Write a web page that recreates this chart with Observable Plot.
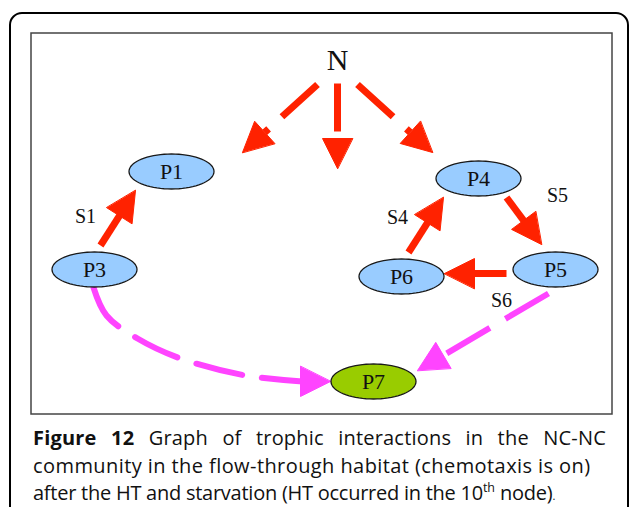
<!DOCTYPE html>
<html><head><meta charset="utf-8">
<script src="https://cdn.jsdelivr.net/npm/d3@7"></script>
<script src="https://cdn.jsdelivr.net/npm/@observablehq/plot@0.6"></script>
<style>
body{margin:0;background:#fff;}
#wrap{position:relative;width:629px;height:507px;overflow:hidden;background:#fff;}
#chart{position:absolute;left:0;top:0;}
#caption{position:absolute;left:33px;top:424px;width:573px;font-family:"Open Sans",sans-serif;font-size:20px;letter-spacing:0.42px;line-height:27.5px;color:#111;white-space:nowrap;}
#caption .l1{text-align:justify;text-align-last:justify;letter-spacing:0.2px;}
#caption .l3{letter-spacing:-0.25px;}
#caption sup{font-size:12.5px;line-height:0;vertical-align:8px;letter-spacing:0;}
#caption .dot{font-size:11px;}
</style></head><body>
<div id="wrap"><div id="chart"></div>
<div id="caption">
<div class="l1"><b>Figure 12</b> Graph of trophic interactions in the NC-NC</div>
<div>community in the flow-through habitat (chemotaxis is on)</div>
<div class="l3">after the HT and starvation (HT occurred in the 10<sup>th</sup> node)<span class="dot">.</span></div>
</div></div>
<script>
// Nodes of the trophic graph
const nodeNames = ["P1", "P3", "P4", "P5", "P6", "P7"];
const nodeX = [171, 94, 478, 555, 401, 373];
const nodeY = [171, 269, 178, 269, 276, 381];
const nodeKind = ["pop", "pop", "pop", "pop", "pop", "sink"];

// Nutrient source
const sourceName = "N";
const sourceX = [337];
const sourceY = [60];

// Nutrient arrows (dashed, red): start and tip
const nArrowX1 = [317, 337, 357];
const nArrowY1 = [84, 83, 84];
const nArrowX2 = [242, 337, 432];
const nArrowY2 = [152, 168, 152];

// Trophic arrows (solid, red): from -> to
const edgeFrom = ["P3", "P6", "P4", "P5"];
const edgeTo = ["P1", "P4", "P5", "P6"];
const edgeX1 = [100, 408, 506, 506];
const edgeY1 = [245, 252, 197, 273];
const edgeX2 = [135, 443, 541, 444];
const edgeY2 = [190, 197, 244, 273];

// Edge labels
const labelNames = ["S1", "S4", "S5", "S6"];
const labelX = [85, 397, 557, 501];
const labelY = [216, 217, 195, 300];

// Dashed magenta flows into P7
const curvePathX = [93, 106, 137, 180, 245, 302];
const curvePathY = [287, 315, 338, 358, 375, 381];
const curveTip = [330, 381];
const s6X = [548, 417];
const s6Y = [293, 370];

const RED = "#ff2200", MAG = "#ff44ff";
const kindColor = {pop: "#99ccff", sink: "#99cc00"};

// helpers
function head(x1, y1, x2, y2, id, L = 30, W = 15) {
  const dx = x2 - x1, dy = y2 - y1, n = Math.hypot(dx, dy);
  const ux = dx / n, uy = dy / n;
  const bx = x2 - L * ux, by = y2 - L * uy;
  return {
    base: [bx, by],
    pts: [
      {id, x: x2, y: y2},
      {id, x: bx - W * uy, y: by + W * ux},
      {id, x: bx + W * uy, y: by - W * ux}
    ]
  };
}

const redHeads = [], redShafts = [], nShafts = [], magHeads = [];
nArrowX1.forEach((_, i) => {
  const h = head(nArrowX1[i], nArrowY1[i], nArrowX2[i], nArrowY2[i], "n" + i);
  redHeads.push(...h.pts);
  nShafts.push({x1: nArrowX1[i], y1: nArrowY1[i], x2: h.base[0], y2: h.base[1]});
});
edgeFrom.forEach((_, i) => {
  const h = head(edgeX1[i], edgeY1[i], edgeX2[i], edgeY2[i], "e" + i);
  redHeads.push(...h.pts);
  redShafts.push({x1: edgeX1[i], y1: edgeY1[i], x2: h.base[0] + (edgeX2[i]-h.base[0])*0.1, y2: h.base[1] + (edgeY2[i]-h.base[1])*0.1});
});
const n1 = curvePathX.length - 1;
const hc = head(curvePathX[n1], curvePathY[n1], curveTip[0], curveTip[1], "c");
magHeads.push(...hc.pts);
const hs = head(s6X[0], s6Y[0], s6X[1], s6Y[1], "s");
magHeads.push(...hs.pts);
const s6Shaft = [{x1: s6X[0], y1: s6Y[0], x2: hs.base[0], y2: hs.base[1]}];
const curvePts = curvePathX.map((x, i) => ({x, y: curvePathY[i]}));

const ellipses = [];
nodeNames.forEach((name, i) => {
  for (let k = 0; k < 72; k++) {
    const a = k / 72 * 2 * Math.PI;
    ellipses.push({name, x: nodeX[i] + 42.5 * Math.cos(a), y: nodeY[i] + 17.5 * Math.sin(a), fill: kindColor[nodeKind[i]]});
  }
});
const nodes = nodeNames.map((name, i) => ({name, x: nodeX[i], y: nodeY[i]}));
const labels = labelNames.map((name, i) => ({name, x: labelX[i], y: labelY[i]}));

const chart = Plot.plot({
  width: 629, height: 507, margin: 0,
  x: {domain: [0, 629], range: [0, 629], axis: null},
  y: {domain: [0, 507], range: [0, 507], axis: null},
  style: {background: "transparent", overflow: "hidden"},
  marks: [
    Plot.rect([{x1: 10, x2: 628, y1: 13, y2: 560}], {x1: "x1", x2: "x2", y1: "y1", y2: "y2", rx: 12, fill: "none", stroke: "#000", strokeWidth: 2}),
    Plot.rect([{x1: 31, x2: 612, y1: 33, y2: 414}], {x1: "x1", x2: "x2", y1: "y1", y2: "y2", fill: "none", stroke: "#444", strokeWidth: 1.5}),
    Plot.link(nShafts, {x1: "x1", y1: "y1", x2: "x2", y2: "y2", stroke: RED, strokeWidth: 7, strokeDasharray: "48,18"}),
    Plot.link(redShafts, {x1: "x1", y1: "y1", x2: "x2", y2: "y2", stroke: RED, strokeWidth: 7}),
    Plot.line(curvePts, {x: "x", y: "y", curve: "catmull-rom", stroke: MAG, strokeWidth: 6, strokeDasharray: "47,20"}),
    Plot.link(s6Shaft, {x1: "x1", y1: "y1", x2: "x2", y2: "y2", stroke: MAG, strokeWidth: 6, strokeDasharray: "50,18"}),
    Plot.line(redHeads, {x: "x", y: "y", z: "id", curve: "linear-closed", fill: RED, stroke: RED, strokeWidth: 1}),
    Plot.line(magHeads, {x: "x", y: "y", z: "id", curve: "linear-closed", fill: MAG, stroke: MAG, strokeWidth: 1}),
    Plot.line(ellipses, {x: "x", y: "y", z: "name", curve: "linear-closed", fill: "fill", stroke: "#1a1a1a", strokeWidth: 1.3}),
    Plot.text(nodes, {x: "x", y: "y", text: "name", fontFamily: "Liberation Serif", fontSize: 22, fill: "#111"}),
    Plot.text([sourceName], {x: sourceX, y: sourceY, text: d => d, fontFamily: "Liberation Serif", fontSize: 30, fill: "#111"}),
    Plot.text(labels, {x: "x", y: "y", text: "name", fontFamily: "Liberation Serif", fontSize: 20, fill: "#111"})
  ]
});
document.getElementById("chart").appendChild(chart);
</script>
</body></html>
